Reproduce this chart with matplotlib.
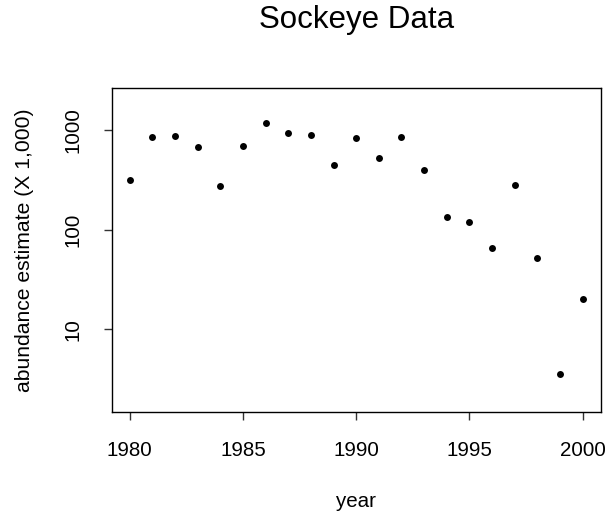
import matplotlib
matplotlib.use("Agg")
import matplotlib.pyplot as plt
from matplotlib.ticker import FixedLocator, NullLocator

years = [1980, 1981, 1982, 1983, 1984, 1985, 1986, 1987, 1988, 1989,
         1990, 1991, 1992, 1993, 1994, 1995, 1996, 1997, 1998, 1999, 2000]
abundance = [315, 844, 871, 670, 272, 686, 1166, 926, 891, 442,
             825, 520, 844, 394, 133, 119, 65, 279, 52, 3.6, 20]

x_ticks = [1980, 1985, 1990, 1995, 2000]
y_ticks = [10, 100, 1000]
y_tick_labels = ["10", "100", "1000"]

plt.rcParams["font.family"] = ["Liberation Sans", "DejaVu Sans"]

FS = 14.8

fig = plt.figure(figsize=(6.08, 5.14), dpi=100)
ax = fig.add_axes([0.1837, 0.199, 0.8043, 0.629])

ax.plot(years, abundance, "o", color="black", markersize=5, markeredgewidth=0)

ax.set_yscale("log")
ax.set_xlim(1979.2, 2000.8)
ax.set_ylim(1.49, 2620)

ax.xaxis.set_major_locator(FixedLocator(x_ticks))
ax.xaxis.set_minor_locator(NullLocator())
ax.set_xticklabels([str(t) for t in x_ticks])
ax.yaxis.set_major_locator(FixedLocator(y_ticks))
ax.yaxis.set_minor_locator(NullLocator())
ax.set_yticklabels(y_tick_labels, rotation=90, va="center")

ax.tick_params(axis="both", length=6, width=1, color="#333333", labelsize=FS)
ax.tick_params(axis="x", pad=15)
ax.tick_params(axis="y", pad=15)
for s in ax.spines.values():
    s.set_linewidth(1)
    s.set_color("black")

ax.set_xlabel("year", fontsize=FS, labelpad=23)
ax.set_ylabel("abundance estimate (X 1,000)", fontsize=15.2, labelpad=21)
fig.text(0.586, 1 - 28 / 514, "Sockeye Data", fontsize=22.5,
         ha="center", va="baseline")

fig.savefig("out.png", dpi=100, facecolor="white")
